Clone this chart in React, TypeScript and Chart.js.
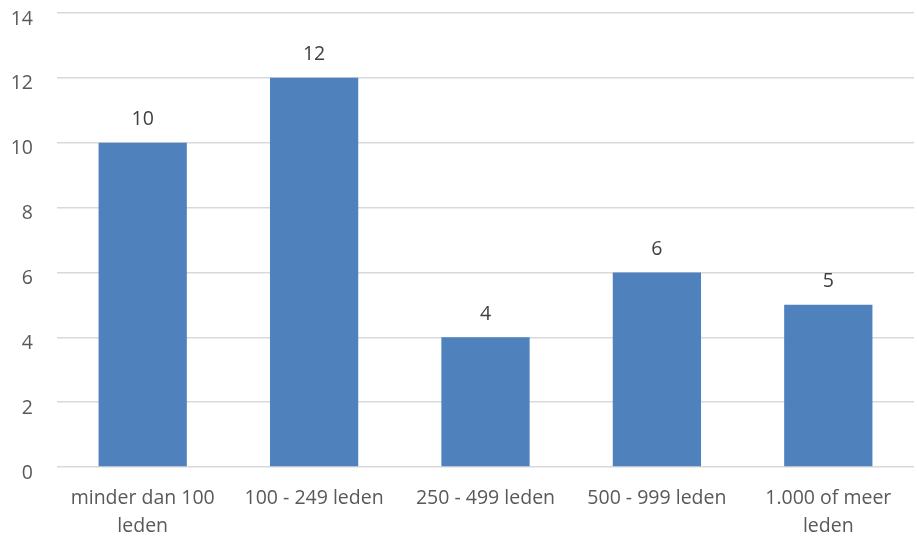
import React, { useEffect, useRef } from "react";
import { Chart, registerables } from "chart.js";

Chart.register(...registerables);

const categories: (string | string[])[] = [
  ["minder dan 100", "leden"],
  "100 - 249 leden",
  "250 - 499 leden",
  "500 - 999 leden",
  ["1.000 of meer", "leden"],
];
const values = [10, 12, 4, 6, 5];
const yTicks = [0, 2, 4, 6, 8, 10, 12, 14];

const FONT = "'Open Sans', 'Liberation Sans', sans-serif";
const TEXT = "#595959";
const SIZE = 19.5;

const labelPlugin = {
  id: "barLabels",
  afterDatasetsDraw(chart: any) {
    const ctx = chart.ctx;
    const meta = chart.getDatasetMeta(0);
    ctx.save();
    ctx.fillStyle = "#404040";
    ctx.font = `${SIZE}px ${FONT}`;
    ctx.textAlign = "center";
    ctx.textBaseline = "middle";
    meta.data.forEach((el: any, i: number) => {
      ctx.fillText(String(values[i]), el.x, el.y - 23);
    });
    ctx.restore();
  },
};

export default function App() {
  const ref = useRef<HTMLCanvasElement>(null);
  useEffect(() => {
    document.body.style.margin = "0";
    const chart = new Chart(ref.current!, {
      type: "bar",
      data: {
        labels: categories,
        datasets: [
          {
            data: values,
            backgroundColor: "#4F81BD",
            barPercentage: 0.515,
            categoryPercentage: 1,
          },
        ],
      },
      options: {
        animation: false,
        responsive: false,
        maintainAspectRatio: false,
        layout: { padding: { top: 13, right: 3, left: 0, bottom: 0 } },
        plugins: { legend: { display: false }, tooltip: { enabled: false } },
        scales: {
          x: {
            grid: { display: false },
            border: { display: false },
            ticks: {
              color: TEXT,
              font: { family: FONT, size: SIZE, lineHeight: 1.42 },
              padding: 10,
              maxRotation: 0,
              autoSkip: false,
            },
            afterFit: (s: any) => {
              s.height = 71;
              s.paddingLeft = 0;
              s.paddingRight = 0;
            },
          },
          y: {
            min: 0,
            max: 14,
            afterBuildTicks: (s: any) => {
              s.ticks = yTicks.map((v) => ({ value: v }));
            },
            grid: { color: "#D9D9D9", lineWidth: 1.5, drawTicks: false },
            border: { display: false },
            ticks: {
              color: TEXT,
              font: { family: FONT, size: SIZE },
              padding: 24,
              labelOffset: 6,
            },
            afterFit: (s: any) => {
              s.width = 57;
              s.paddingTop = 0;
              s.paddingBottom = 0;
            },
          },
        },
      },
      plugins: [labelPlugin],
    });
    return () => chart.destroy();
  }, []);
  return (
    <div style={{ width: 917, height: 538 }}>
      <canvas ref={ref} width={917} height={538} />
    </div>
  );
}
